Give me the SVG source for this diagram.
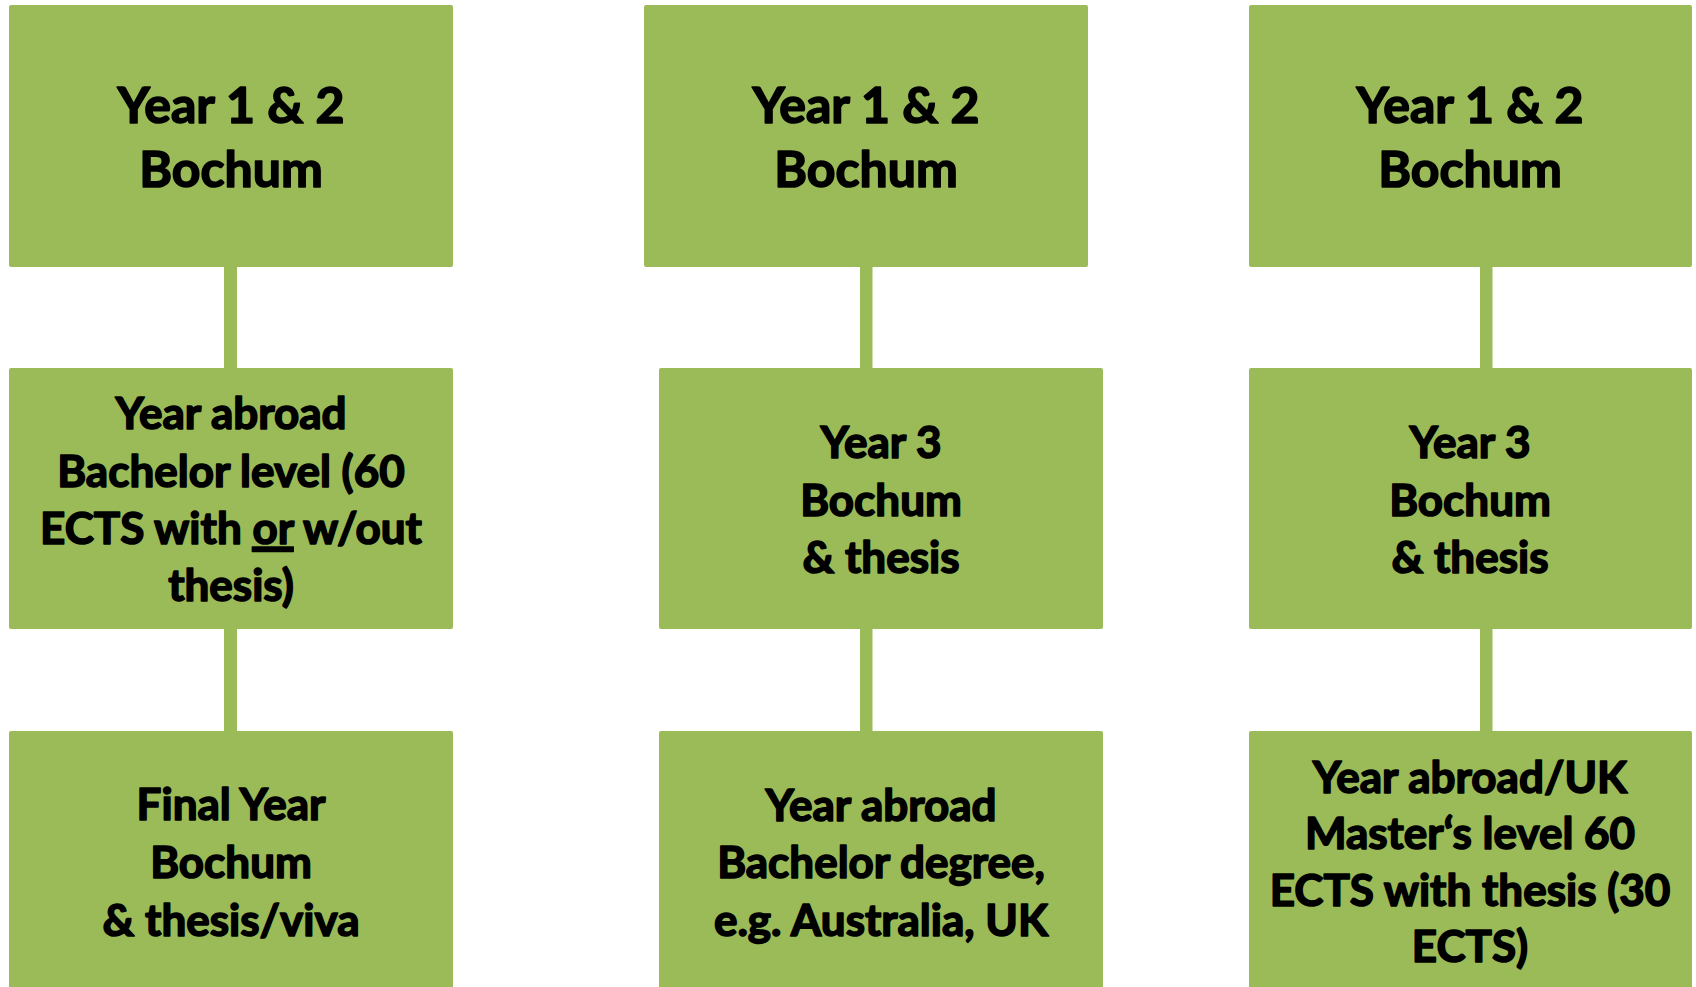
<svg xmlns="http://www.w3.org/2000/svg" width="1696" height="987" viewBox="0 0 1696 987">
<style>
.box{fill:#9BBB59;}
.con{fill:#9BBB59;}
.t1,.t2{font-family:Lato,"Open Sans",sans-serif;font-weight:bold;fill:#000;stroke:#000;stroke-width:1.6px;stroke-linejoin:round;text-anchor:middle;}
.t1{font-size:50px;}
.t2{font-size:44px;}
</style>
<rect width="1696" height="987" fill="#fff"/>
<g id="connectors">
<rect class="con" x="224" y="266" width="13" height="104"/>
<rect class="con" x="224" y="628" width="13" height="105"/>
<rect class="con" x="860" y="266" width="12.5" height="104"/>
<rect class="con" x="860" y="628" width="12.5" height="105"/>
<rect class="con" x="1480" y="266" width="12.5" height="104"/>
<rect class="con" x="1480" y="628" width="12.5" height="105"/>
</g>
<g id="n1a">
<rect class="box" x="9" y="5" width="444" height="262" rx="2"/>
<text class="t1" x="231" y="123">Year 1 &amp; 2</text>
<text class="t1" x="231" y="187">Bochum</text>
</g>
<g id="n1b">
<rect class="box" x="9" y="368" width="444" height="261" rx="2"/>
<text class="t2" x="231" y="429">Year abroad</text>
<text class="t2" x="231" y="487">Bachelor level (60</text>
<text class="t2" x="231" y="544">ECTS with <tspan text-decoration="underline">or</tspan> w/out</text>
<text class="t2" x="231" y="601">thesis)</text>
</g>
<g id="n1c">
<rect class="box" x="9" y="731" width="444" height="262" rx="2"/>
<text class="t2" x="231" y="820">Final Year</text>
<text class="t2" x="231" y="878">Bochum</text>
<text class="t2" x="231" y="936">&amp; thesis/viva</text>
</g>
<g id="n2a">
<rect class="box" x="644" y="5" width="444" height="262" rx="2"/>
<text class="t1" x="866" y="123">Year 1 &amp; 2</text>
<text class="t1" x="866" y="187">Bochum</text>
</g>
<g id="n2b">
<rect class="box" x="659" y="368" width="444" height="261" rx="2"/>
<text class="t2" x="881" y="458">Year 3</text>
<text class="t2" x="881" y="516">Bochum</text>
<text class="t2" x="881" y="573">&amp; thesis</text>
</g>
<g id="n2c">
<rect class="box" x="659" y="731" width="444" height="262" rx="2"/>
<text class="t2" x="881" y="821">Year abroad</text>
<text class="t2" x="881" y="878">Bachelor degree,</text>
<text class="t2" x="881" y="936">e.g. Australia, UK</text>
</g>
<g id="n3a">
<rect class="box" x="1249" y="5" width="443" height="262" rx="2"/>
<text class="t1" x="1470" y="123">Year 1 &amp; 2</text>
<text class="t1" x="1470" y="187">Bochum</text>
</g>
<g id="n3b">
<rect class="box" x="1249" y="368" width="443" height="261" rx="2"/>
<text class="t2" x="1470" y="458">Year 3</text>
<text class="t2" x="1470" y="516">Bochum</text>
<text class="t2" x="1470" y="573">&amp; thesis</text>
</g>
<g id="n3c">
<rect class="box" x="1249" y="731" width="443" height="262" rx="2"/>
<text class="t2" x="1470" y="793">Year abroad/UK</text>
<text class="t2" x="1470" y="849">Master‘s level 60</text>
<text class="t2" x="1470" y="906">ECTS with thesis (30</text>
<text class="t2" x="1470" y="962">ECTS)</text>
</g>
</svg>
